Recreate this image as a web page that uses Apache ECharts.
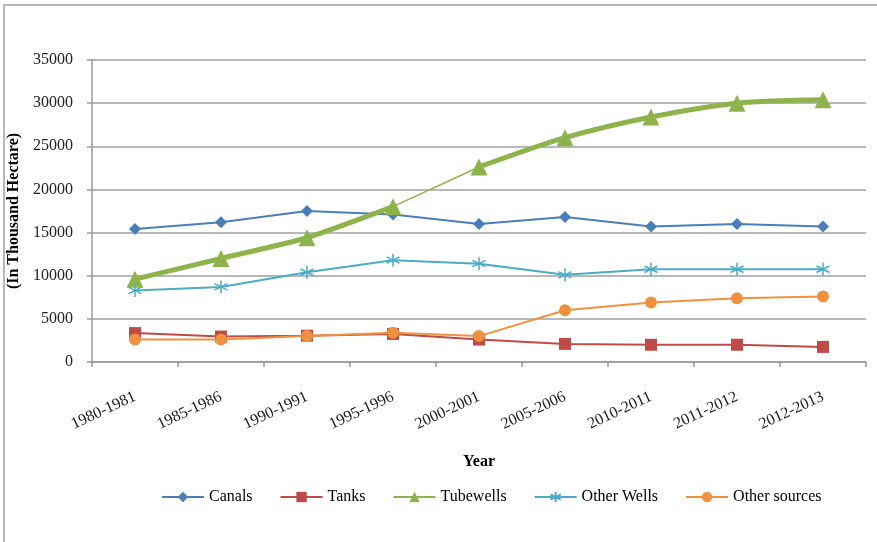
<!DOCTYPE html>
<html>
<head>
<meta charset="utf-8">
<script src="https://cdn.jsdelivr.net/npm/echarts@6/dist/echarts.min.js"></script>
<style>
  html, body { margin: 0; padding: 0; background: #fff; }
  #chart { width: 877px; height: 542px; }
</style>
</head>
<body>
<div id="chart"></div>
<script>
// 数据
const years = ['1980-1981', '1985-1986', '1990-1991', '1995-1996', '2000-2001',
  '2005-2006', '2010-2011', '2011-2012', '2012-2013']
const canals = [15400, 16200, 17500, 17100, 16000, 16800, 15700, 16000, 15700]
const tanks = [3350, 2950, 3050, 3250, 2600, 2100, 2000, 2000, 1750]
const tubewells = [9600, 12000, 14400, 18000, 22600, 26000, 28400, 30000, 30400]
const otherWells = [8300, 8700, 10400, 11800, 11400, 10100, 10750, 10750, 10750]
const otherSources = [2600, 2600, 3000, 3400, 3000, 6000, 6900, 7400, 7600]

const serif = '"Liberation Serif", "Times New Roman", serif'
const asterisk = 'path://M5,0L5,10M0.7,2.5L9.3,7.5M9.3,2.5L0.7,7.5'

// 管井线: 1995-2000 这一段是细线
const part = (arr, from, to) => arr.map((v, i) => (i >= from && i <= to ? v : null))

const chart = echarts.init(document.getElementById('chart'))

const lineSeries = (name, data, color, symbol, size, extra) => Object.assign({
  name: name,
  type: 'line',
  data: data,
  symbol: symbol,
  symbolSize: size,
  lineStyle: { color: color, width: 2 },
  itemStyle: { color: color },
  emphasis: { disabled: true },
}, extra || {})

const option = {
  animation: false,
  graphic: [{
    type: 'rect',
    shape: { x: 4, y: 5, width: 1000, height: 1000 },
    style: { fill: 'none', stroke: '#a0a0a0', lineWidth: 1.5 },
    silent: true,
  }],
  grid: { left: 92, right: 11, top: 60, bottom: 180, outerBoundsMode: 'none' },
  legend: {
    top: 484,
    left: 156,
    itemWidth: 42,
    itemHeight: 13,
    itemGap: 27,
    textStyle: { fontFamily: serif, fontSize: 16, color: '#000' },
    data: ['Canals', 'Tanks', 'Tubewells', 'Other Wells', 'Other sources'],
  },
  xAxis: {
    type: 'category',
    data: years,
    boundaryGap: true,
    name: 'Year',
    nameLocation: 'middle',
    nameGap: 92,
    nameTextStyle: { fontFamily: serif, fontSize: 16, fontWeight: 'bold', color: '#000' },
    axisLine: { lineStyle: { color: '#999', width: 1.5 } },
    axisTick: { show: true, alignWithLabel: false, length: 5, lineStyle: { color: '#999', width: 1.5 } },
    axisLabel: { rotate: 25, margin: 34, interval: 0, fontFamily: serif, fontSize: 16, color: '#222' },
  },
  yAxis: {
    type: 'value',
    min: 0,
    max: 35000,
    interval: 5000,
    name: '(In Thousand Hectare)',
    nameLocation: 'middle',
    nameGap: 66,
    nameTextStyle: { fontFamily: serif, fontSize: 16, fontWeight: 'bold', color: '#000' },
    axisLine: { show: true, lineStyle: { color: '#999', width: 1.5 } },
    axisTick: { show: true, length: 5, lineStyle: { color: '#999', width: 1.5 } },
    axisLabel: { margin: 19, fontFamily: serif, fontSize: 16, color: '#222', formatter: (v) => String(v) },
    splitLine: { lineStyle: { color: '#a0a0a0', width: 1.5 } },
  },
  series: [
    lineSeries('Canals', canals, '#4a7ebb', 'diamond', 12),
    lineSeries('Tanks', tanks, '#be4b48', 'rect', 12),
    lineSeries('Tubewells', part(tubewells, 0, 3), '#8fb34b', 'triangle', 17,
      { lineStyle: { color: '#8fb34b', width: 5 }, smooth: 0.2 }),
    lineSeries('Tubewells', part(tubewells, 3, 4), '#8fb34b', 'none', 0,
      { lineStyle: { color: '#8fb34b', width: 1.5 } }),
    lineSeries('Tubewells', part(tubewells, 4, 8), '#8fb34b', 'triangle', 17,
      { lineStyle: { color: '#8fb34b', width: 5 }, smooth: 0.3 }),
    lineSeries('Other Wells', otherWells, '#4bacc6', asterisk, 13,
      { itemStyle: { color: '#4bacc6', borderColor: '#4bacc6', borderWidth: 1.5 } }),
    lineSeries('Other sources', otherSources, '#f0913f', 'circle', 12),
  ],
}

chart.setOption(option)
</script>
</body>
</html>
